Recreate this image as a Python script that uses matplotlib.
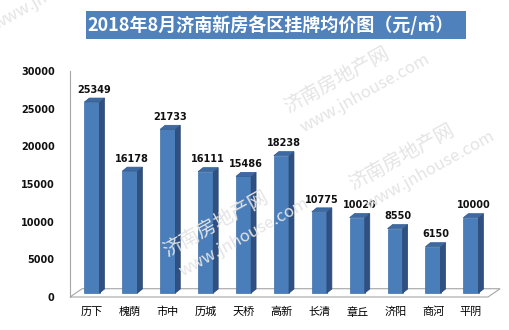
import numpy as np
import matplotlib.pyplot as plt
from matplotlib.patches import Polygon, Rectangle

plt.rcParams["font.family"] = ["Noto Sans CJK SC", "DejaVu Sans"]

districts = ["历下", "槐荫", "市中", "历城", "天桥", "高新", "长清", "章丘", "济阳", "商河", "平阴"]
prices = [25349, 16178, 21733, 16111, 15486, 18238, 10775, 10020, 8550, 6150, 10000]
yticks = [0, 5000, 10000, 15000, 20000, 25000, 30000]
title = "2018年8月济南新房各区挂牌均价图（元/㎡）"

W, H = 510, 330
fig = plt.figure(figsize=(W / 100, H / 100), dpi=100)


def px(x, y):
    # pixel position (from top-left) -> figure fraction
    return x / W, 1 - y / H


# faint site watermark
wm_kw = dict(rotation=29, rotation_mode="anchor", color="#e4e4e4",
             ha="left", va="baseline", zorder=0)
for x0, y0 in [(288, 113), (353, 190), (167, 257)]:
    fig.text(*px(x0, y0), "济南房地产网", fontsize=14, **wm_kw)
for x0, y0 in [(-3, 30), (304, 133), (369, 210), (183, 277)]:
    fig.text(*px(x0, y0), "www.jnhouse.com", fontsize=12, **wm_kw)

# title banner
fig.patches.append(Rectangle(px(86, 39), 380 / W, 28 / H, transform=fig.transFigure,
                             facecolor="#4f81bd", edgecolor="none", zorder=1))
fig.text(*px(271, 25), title, ha="center", va="center", color="white",
         fontsize=13, fontweight="bold", zorder=2)

ax = fig.add_axes([70 / W, 33 / H, 418 / W, 226 / H])
ax.patch.set_alpha(0)
ax.set_xlim(-0.58, 10.45)
ax.set_ylim(0, 30000)

x = np.arange(len(districts))
width = 0.4
dx, dy = 0.13, 530      # bar depth in data units
lift = 530              # bars stand in the middle of the floor depth

# floor
floor = Polygon([(-0.58, 0), (10.45, 0), (10.77, 1100), (-0.26, 1100)],
                closed=True, facecolor="white", edgecolor="#a6a6a6", lw=0.8,
                clip_on=False, zorder=1)
ax.add_patch(floor)

bars = ax.bar(x, prices, width, bottom=lift, color="#4a7ebb",
              edgecolor="#3f6fa8", lw=0.5, zorder=3)
for xi, v in zip(x, prices):
    r = xi + width / 2
    l = xi - width / 2
    top = lift + v
    ax.add_patch(Polygon([(r, lift), (r + dx, lift + dy), (r + dx, top + dy), (r, top)],
                         closed=True, facecolor="#2f5080", edgecolor="#2a4670",
                         lw=0.5, zorder=3))
    ax.add_patch(Polygon([(l, top), (r, top), (r + dx, top + dy), (l + dx, top + dy)],
                         closed=True, facecolor="#3d6aa2", edgecolor="#335a8c",
                         lw=0.5, zorder=3))
    ax.annotate(f"{v}", (xi + dx / 2, top + dy), xytext=(0, 6), textcoords="offset points",
                ha="center", va="center", fontsize=7, fontweight="bold",
                family="DejaVu Sans", color="#111111", zorder=4)

ax.set_xticks(x, labels=districts)
ax.set_yticks(yticks)
ax.tick_params(axis="x", length=0, pad=7, labelsize=8, colors="black")
ax.tick_params(axis="y", length=0, pad=11, labelsize=7, colors="#111111")
for lab in ax.get_yticklabels():
    lab.set_fontweight("bold")
    lab.set_family("DejaVu Sans")

for s in ["top", "right", "bottom"]:
    ax.spines[s].set_visible(False)
ax.spines["left"].set_color("#a6a6a6")
ax.spines["left"].set_linewidth(0.8)

fig.savefig("out.png", dpi=100)
